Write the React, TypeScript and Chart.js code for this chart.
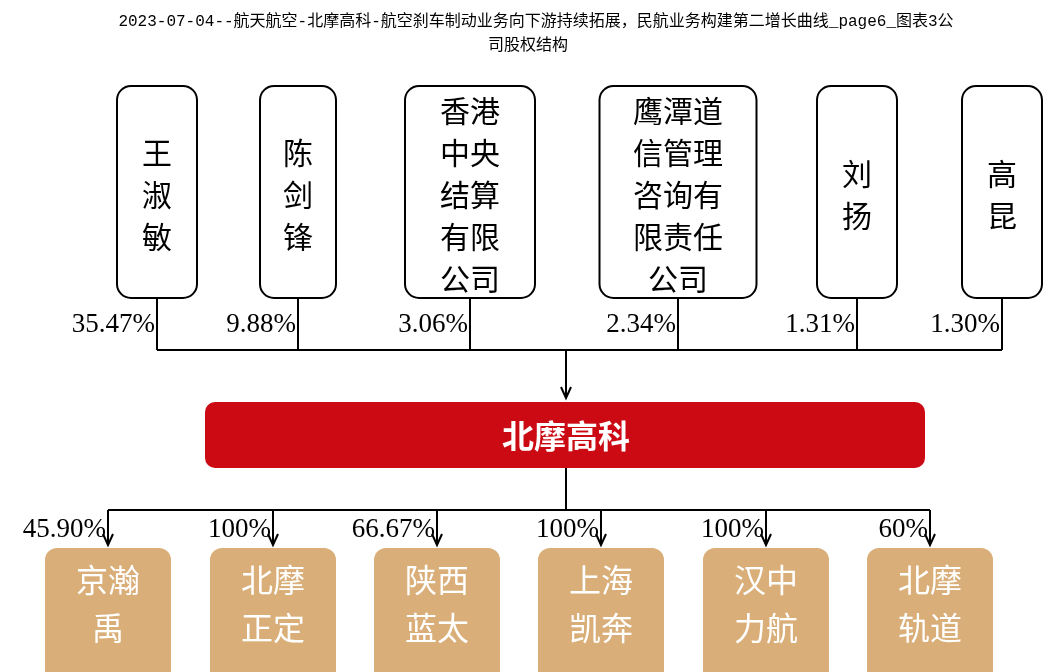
import { useEffect, useRef } from 'react'
import { Chart, registerables } from 'chart.js'

Chart.register(...registerables)

const title1 = '2023-07-04--航天航空-北摩高科-航空刹车制动业务向下游持续拓展，民航业务构建第二增长曲线_page6_图表3公'
const title2 = '司股权结构'
const holders = ['王淑敏', '陈剑锋', '香港中央结算有限公司', '鹰潭道信管理咨询有限责任公司', '刘扬', '高昆']
const holderCols = [1, 1, 2, 3, 1, 1]
const holderShares = ['35.47%', '9.88%', '3.06%', '2.34%', '1.31%', '1.30%']
const company = '北摩高科'
const subs = ['京瀚禹', '北摩正定', '陕西蓝太', '上海凯奔', '汉中力航', '北摩轨道']
const subShares = ['45.90%', '100%', '66.67%', '100%', '100%', '60%']

// layout (pixels)
const topX = [157, 298, 470, 678, 857, 1002]
const topW = [80, 76, 130, 157, 80, 80]
const botX = [108, 273, 437, 601, 766, 930]

const serif = '"Liberation Serif", "Noto Sans CJK SC", serif'
const cjk = '"Noto Sans CJK SC", sans-serif'

const OrgChart = () => {
  const chartRef = useRef<HTMLCanvasElement>(null)

  useEffect(() => {
    if (!chartRef.current) return
    const drawPlugin = {
      id: 'org',
      afterDraw(chart: Chart) {
        const ctx = chart.ctx
        const sx = chart.scales.x
        const sy = chart.scales.y
        const X = (v: number) => sx.getPixelForValue(v)
        const Y = (v: number) => sy.getPixelForValue(v)
        ctx.save()
        ctx.fillStyle = '#000'
        ctx.textAlign = 'center'
        ctx.textBaseline = 'middle'
        ctx.font = `16px "Liberation Mono", "Noto Sans CJK SC", monospace`
        ctx.fillText(title1, X(536), Y(22))
        ctx.fillText(title2, X(528), Y(46))

        const rr = (x: number, y: number, w: number, h: number, r: number) => {
          ctx.beginPath()
          ctx.roundRect(X(x), Y(y), w, h, r)
        }
        const arrow = (x: number, y1: number, y2: number) => {
          ctx.beginPath()
          ctx.moveTo(X(x), Y(y1))
          ctx.lineTo(X(x), Y(y2))
          ctx.stroke()
          ctx.beginPath()
          ctx.moveTo(X(x) - 5, Y(y2) - 11)
          ctx.lineTo(X(x), Y(y2))
          ctx.lineTo(X(x) + 5, Y(y2) - 11)
          ctx.stroke()
        }
        ctx.strokeStyle = '#000'
        ctx.lineWidth = 2
        // top boxes
        holders.forEach((name, i) => {
          const w = topW[i]
          rr(topX[i] - w / 2, 86, w, 212, 14)
          ctx.fillStyle = '#fff'
          ctx.fill()
          ctx.stroke()
          const c = holderCols[i]
          const rows: string[] = []
          for (let k = 0; k < name.length; k += c) rows.push(name.slice(k, k + c))
          ctx.fillStyle = '#000'
          ctx.font = `30px ${cjk}`
          rows.forEach((row, r) => {
            const y = 195 + (r - (rows.length - 1) / 2) * 42
            ctx.fillText(row, X(topX[i]), Y(y))
          })
          ctx.beginPath()
          ctx.moveTo(X(topX[i]), Y(298))
          ctx.lineTo(X(topX[i]), Y(350))
          ctx.stroke()
          ctx.textAlign = 'right'
          ctx.font = `27px ${serif}`
          ctx.fillText(holderShares[i], X(topX[i]) - 2, Y(325))
          ctx.textAlign = 'center'
        })
        ctx.beginPath()
        ctx.moveTo(X(topX[0]), Y(350))
        ctx.lineTo(X(topX[5]), Y(350))
        ctx.stroke()
        arrow(566, 350, 398)
        // main company
        rr(205, 402, 720, 66, 10)
        ctx.fillStyle = '#cc0a14'
        ctx.fill()
        ctx.fillStyle = '#fff'
        ctx.font = `bold 32px ${cjk}`
        ctx.fillText(company, X(566), Y(436))
        ctx.beginPath()
        ctx.moveTo(X(566), Y(468))
        ctx.lineTo(X(566), Y(510))
        ctx.moveTo(X(botX[0]), Y(510))
        ctx.lineTo(X(botX[5]), Y(510))
        ctx.stroke()
        // subsidiaries
        subs.forEach((name, i) => {
          arrow(botX[i], 510, 545)
          ctx.fillStyle = '#000'
          ctx.textAlign = 'right'
          ctx.font = `27px ${serif}`
          ctx.fillText(subShares[i], X(botX[i]) - 2, Y(530))
          ctx.textAlign = 'center'
          rr(botX[i] - 63, 548, 126, 140, 12)
          ctx.fillStyle = '#d9ae78'
          ctx.fill()
          ctx.fillStyle = '#fff'
          ctx.font = `32px ${cjk}`
          const rows = [name.slice(0, 2), name.slice(2)]
          rows.forEach((row, r) => ctx.fillText(row, X(botX[i]), Y(580 + r * 48)))
        })
        ctx.restore()
      },
    }

    const chart = new Chart(chartRef.current, {
      type: 'scatter',
      data: { datasets: [{ data: [], pointRadius: 0 }] },
      options: {
        animation: false,
        responsive: false,
        layout: { padding: 0 },
        plugins: { legend: { display: false }, tooltip: { enabled: false } },
        scales: {
          x: { type: 'linear', min: 0, max: 1056, display: false },
          y: { type: 'linear', min: 0, max: 672, reverse: true, display: false },
        },
      },
      plugins: [drawPlugin],
    })
    return () => chart.destroy()
  }, [])

  return <canvas ref={chartRef} width={1056} height={672} style={{ display: 'block', width: 1056, height: 672 }} />
}

export default function App() {
  document.body.style.margin = '0'
  return <OrgChart />
}
